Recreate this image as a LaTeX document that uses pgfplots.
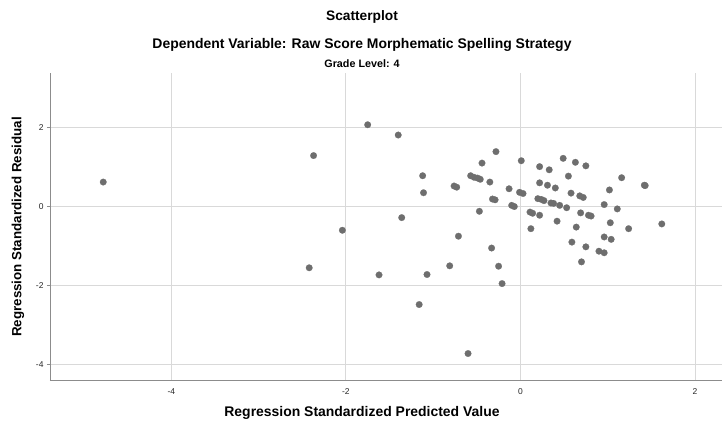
\documentclass[border=0pt]{standalone}
\usepackage{pgfplots}
\pgfplotsset{compat=1.18}
\usepackage{fontspec}
\setmainfont{Liberation Sans}
\definecolor{markgray}{HTML}{6E6E6E}
\definecolor{gridgray}{HTML}{D9D9D9}
\definecolor{axisgray}{HTML}{8C8C8C}

\begin{document}
\begin{tikzpicture}[x=1bp,y=1bp]
\begin{axis}[
  at={(0,0)}, anchor=south west,
  scale only axis,
  width=672bp, height=307bp,
  xmin=-5.39, xmax=2.31,
  ymin=-4.39, ymax=3.38,
  xtick={-4,-2,0,2}, ytick={-4,-2,0,2},
  axis x line*=bottom, axis y line*=left,
  axis line style={axisgray, line width=0.8pt, -},
  tick style={axisgray, line width=0.6pt},
  xtick style={draw=none},
  ytick style={axisgray},
  tick align=outside,
  major tick length=3bp,
  grid=major,
  major grid style={gridgray, line width=0.9pt},
  /pgf/number format/assume math mode=true,
  ticklabel style={font=\fontsize{8.5}{10}\selectfont, text=black!85},
  xticklabel style={yshift=-2bp},
  clip=false,
]
\addplot[only marks, mark=*, mark size=3.3bp,
  mark options={fill=markgray, draw=markgray, line width=0.2pt}]
  coordinates {
  (-4.78,0.62) (-1.75,2.07) (-2.37,1.29) (-2.04,-0.60) (-2.42,-1.55)
  (-1.62,-1.73) (-1.40,1.81) (-1.12,0.78) (-1.11,0.35) (-1.36,-0.28)
  (-1.07,-1.72) (-1.16,-2.48) (-0.71,-0.75) (-0.81,-1.50) (-0.60,-3.72)
  (-0.76,0.52) (-0.73,0.49) (-0.57,0.78) (-0.53,0.74) (-0.49,0.72)
  (-0.46,0.69) (-0.44,1.10) (-0.28,1.39) (-0.35,0.62) (-0.32,0.19)
  (-0.29,0.17) (-0.47,-0.12) (-0.33,-1.05) (-0.25,-1.51) (-0.21,-1.95)
  (-0.13,0.45) (-0.10,0.03) (-0.07,0.00) (0.01,1.16) (-0.01,0.36)
  (0.03,0.33) (0.11,-0.14) (0.14,-0.17) (0.12,-0.56) (0.22,1.01)
  (0.33,0.93) (0.22,0.60) (0.31,0.54) (0.40,0.47) (0.22,-0.22)
  (0.20,0.20) (0.24,0.18) (0.27,0.15) (0.35,0.09) (0.38,0.08)
  (0.45,0.03) (0.53,-0.03) (0.42,-0.37) (0.49,1.22) (0.63,1.12)
  (0.75,1.03) (0.55,0.77) (0.58,0.34) (0.68,0.27) (0.72,0.23)
  (0.69,-0.16) (0.78,-0.22) (0.81,-0.24) (0.64,-0.52) (0.59,-0.90)
  (0.75,-1.02) (0.70,-1.40) (0.90,-1.13) (0.96,-1.17) (0.96,0.05)
  (1.02,0.42) (1.11,-0.06) (1.03,-0.41) (0.96,-0.77) (1.04,-0.83)
  (1.16,0.73) (1.24,-0.56) (1.42,0.54) (1.43,0.53) (1.62,-0.44)
  };
\end{axis}
% titles and axis labels, placed in picture units (origin at the axis' lower left)
\node[font=\fontsize{13.8}{16}\selectfont\bfseries] at (312,363) {Scatterplot};
\node[font=\fontsize{14}{16}\selectfont\bfseries] at (312,335) {Dependent Variable: Raw Score Morphematic Spelling Strategy};
\node[font=\fontsize{10.8}{12}\selectfont\bfseries] at (312,316) {Grade Level: 4};
\node[font=\fontsize{14}{16}\selectfont\bfseries] at (312,-33) {Regression Standardized Predicted Value};
\node[font=\fontsize{13.4}{16}\selectfont\bfseries, rotate=90] at (-32,153) {Regression Standardized Residual};
\pgfresetboundingbox
\useasboundingbox (-50,-45) rectangle (672,380);
\end{tikzpicture}
\end{document}
